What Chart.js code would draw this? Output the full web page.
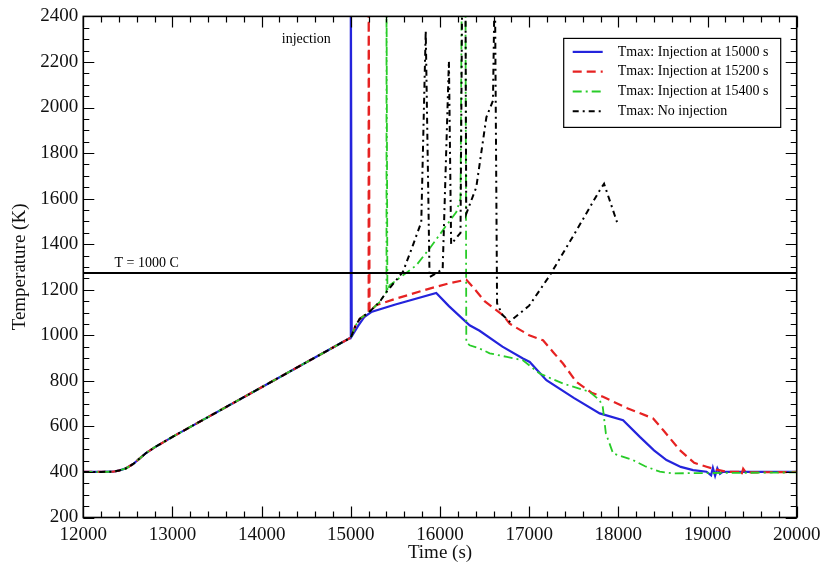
<!DOCTYPE html>
<html>
<head>
<meta charset="utf-8">
<title>Tmax history</title>
<script src="https://cdn.jsdelivr.net/npm/chart.js@4.4.1/dist/chart.umd.min.js"></script>
<style>
  html, body { margin: 0; padding: 0; background: #fff; }
  canvas { display: block; }
</style>
</head>
<body>
<canvas id="tmaxChart" width="827" height="564"></canvas>
<script>
// heat-up before any injection, shared by all runs
const baseTime = [12000, 12200, 12330, 12400, 12480, 12560, 12640, 12700, 12800, 13000, 14000, 15000];
const baseTemp = [400, 400, 401, 406, 416, 435, 462, 482, 508, 554, 772, 990];

// no injection up to the 15200 s kink
const preTime = [15050, 15100, 15200];
const preTemp = [1040, 1072, 1100];

const inj15000Time = [15000, 15010, 15080, 15150, 15229, 15500, 15958, 16100, 16332, 16444, 16700, 16930, 17006, 17193, 17500, 17791, 18053, 18241, 18400, 18540, 18700, 18838, 18989, 19040, 19060, 19085, 19110, 19140, 19170, 20000];
const inj15000Temp = [2600, 995, 1040, 1080, 1102, 1135, 1186, 1128, 1044, 1020, 950, 898, 883, 803, 725, 657, 627, 554, 495, 452, 422, 408, 401, 385, 418, 383, 416, 392, 400, 400];

const inj15200Time = [15200, 15210, 15285, 15500, 15883, 16100, 16295, 16369, 16500, 16706, 16781, 17000, 17155, 17267, 17379, 17530, 17700, 17828, 18100, 18390, 18502, 18689, 18850, 18989, 19100, 19213, 19350, 19380, 19400, 19430, 20000];
const inj15200Temp = [2600, 1105, 1132, 1160, 1205, 1228, 1244, 1212, 1150, 1088, 1051, 1000, 978, 927, 876, 795, 748, 730, 680, 635, 584, 496, 440, 423, 410, 401, 400, 386, 414, 398, 400];

const inj15400Time = [15322, 15400, 15400, 15410, 15434, 15734, 15900, 16071, 16183, 16230, 16245, 16285, 16295, 16332, 16444, 16557, 16750, 16930, 17118, 17379, 17677, 17790, 17825, 17860, 17941, 18165, 18300, 18465, 18600, 20000];
const inj15400Temp = [1146, 1190, 2600, 1195, 1219, 1307, 1390, 1482, 1541, 1600, 2600, 2600, 971, 956, 942, 921, 905, 890, 832, 788, 752, 715, 686, 569, 481, 452, 425, 401, 394, 398];

const noInjTime = [15322, 15400, 15584, 15696, 15790, 15840, 15883, 16030, 16100, 16125, 16230, 16250, 16285, 16294, 16407, 16520, 16594, 16615, 16640, 16700, 16780, 17000, 17230, 17530, 17790, 17840, 17903, 17960, 17985];
const noInjTemp = [1146, 1190, 1278, 1395, 1497, 2337, 1255, 1290, 2204, 1400, 1450, 2600, 2600, 1533, 1650, 1957, 2030, 2600, 1140, 1090, 1060, 1130, 1262, 1460, 1636, 1665, 1592, 1526, 1497];

const seriesLabels = [
  'Tmax: Injection at 15000 s',
  'Tmax: Injection at 15200 s',
  'Tmax: Injection at 15400 s',
  'Tmax: No injection'
];

const limitTemp = 1273;   // 1000 C
const xTicks = { min: 12000, max: 20000, major: 1000, minor: 200 };
const yTicks = { min: 200, max: 2400, major: 200, minor: 50 };

const FONT = "'Liberation Serif', 'Times New Roman', serif";

function pts(times, temps) {
  return times.map((t, i) => ({ x: t, y: temps[i] }));
}

const blueData = pts(baseTime.concat(inj15000Time), baseTemp.concat(inj15000Temp));
const redData = pts(baseTime.concat(preTime, inj15200Time), baseTemp.concat(preTemp, inj15200Temp));
const greenData = pts(baseTime.concat(preTime, inj15400Time), baseTemp.concat(preTemp, inj15400Temp));
const blackData = pts(baseTime.concat(preTime, noInjTime), baseTemp.concat(preTemp, noInjTemp));

const lineDefaults = { showLine: true, pointRadius: 0, pointHoverRadius: 0, fill: false, tension: 0 };

// frame with inward ticks, text labels and the boxed legend
const graceFrame = {
  id: 'graceFrame',
  afterDatasetsDraw(chart) {
    const { ctx, chartArea: a, scales: { x, y } } = chart;
    ctx.save();

    ctx.strokeStyle = '#000';
    ctx.lineWidth = 1.2;
    ctx.beginPath();
    for (let v = xTicks.min; v <= xTicks.max; v += xTicks.minor) {
      const px = Math.round(x.getPixelForValue(v)) + 0.5;
      const len = v % xTicks.major === 0 ? 11 : 6;
      ctx.moveTo(px, a.bottom); ctx.lineTo(px, a.bottom - len);
      ctx.moveTo(px, a.top); ctx.lineTo(px, a.top + len);
    }
    for (let v = yTicks.min; v <= yTicks.max; v += yTicks.minor) {
      const py = Math.round(y.getPixelForValue(v)) + 0.5;
      const len = v % yTicks.major === 0 ? 11 : 6;
      ctx.moveTo(a.left, py); ctx.lineTo(a.left + len, py);
      ctx.moveTo(a.right, py); ctx.lineTo(a.right - len, py);
    }
    ctx.stroke();

    ctx.lineWidth = 1.6;
    ctx.strokeRect(a.left, a.top, a.right - a.left, a.bottom - a.top);

    // text on the plot
    ctx.fillStyle = '#000';
    ctx.font = '14px ' + FONT;
    ctx.textAlign = 'right';
    ctx.textBaseline = 'middle';
    ctx.fillText('injection', x.getPixelForValue(15000) - 20, y.getPixelForValue(2298));
    ctx.textAlign = 'left';
    ctx.textBaseline = 'alphabetic';
    ctx.fillText('T = 1000 C', x.getPixelForValue(12350), y.getPixelForValue(limitTemp) - 6);

    // legend
    const bw = 217, bh = 89;
    const bx = a.right - 16 - bw, by = a.top + 22;
    ctx.fillStyle = '#fff';
    ctx.fillRect(bx, by, bw, bh);
    ctx.lineWidth = 1.2;
    ctx.strokeStyle = '#000';
    ctx.strokeRect(bx, by, bw, bh);
    ctx.textBaseline = 'middle';
    ctx.font = '14px ' + FONT;
    seriesLabels.forEach((label, i) => {
      const ds = chart.data.datasets[i];
      const ry = by + 13.5 + i * 19.8;
      ctx.save();
      ctx.strokeStyle = ds.borderColor;
      ctx.lineWidth = ds.borderWidth;
      ctx.setLineDash(ds.borderDash || []);
      ctx.beginPath();
      ctx.moveTo(bx + 9, ry);
      ctx.lineTo(bx + 39, ry);
      ctx.stroke();
      ctx.restore();
      ctx.fillStyle = '#000';
      ctx.fillText(label, bx + 54, ry);
    });

    ctx.restore();
  }
};

const ctx = document.getElementById('tmaxChart');

// lower order is drawn on top: black over green over red over blue
new Chart(ctx, {
  type: 'scatter',
  data: {
    datasets: [
      { ...lineDefaults, label: seriesLabels[0], data: blueData, borderColor: '#2424dc', borderWidth: 2.2, order: 3 },
      { ...lineDefaults, label: seriesLabels[1], data: redData, borderColor: '#e62222', borderWidth: 2.2, borderDash: [9, 5], order: 2 },
      { ...lineDefaults, label: seriesLabels[2], data: greenData, borderColor: '#28cc28', borderWidth: 1.8, borderDash: [9, 4, 2, 4], order: 1 },
      { ...lineDefaults, label: seriesLabels[3], data: blackData, borderColor: '#000', borderWidth: 2, borderDash: [6, 4, 2, 4], order: 0 },
      { ...lineDefaults, label: 'T = 1000 C', data: [{ x: xTicks.min, y: limitTemp }, { x: xTicks.max, y: limitTemp }], borderColor: '#000', borderWidth: 2, order: -1 }
    ]
  },
  options: {
    responsive: false,
    animation: false,
    devicePixelRatio: 1,
    layout: { padding: { left: 0, right: 30.3, top: 15.7, bottom: 0 } },
    plugins: {
      legend: { display: false },
      tooltip: { enabled: false }
    },
    scales: {
      x: {
        type: 'linear',
        min: xTicks.min,
        max: xTicks.max,
        afterFit: (scale) => { scale.height = 46.5; },
        grid: { display: false, drawTicks: false },
        border: { display: false },
        ticks: {
          stepSize: xTicks.major,
          autoSkip: false,
          maxRotation: 0,
          padding: 6,
          color: '#111',
          font: { family: FONT, size: 19 },
          callback: (v) => String(v)
        },
        title: {
          display: true,
          text: 'Time (s)',
          color: '#111',
          font: { family: FONT, size: 19 },
          padding: { top: 0, bottom: 0 }
        }
      },
      y: {
        type: 'linear',
        min: yTicks.min,
        max: yTicks.max,
        afterFit: (scale) => { scale.width = 83.3; },
        grid: { display: false, drawTicks: false },
        border: { display: false },
        ticks: {
          stepSize: yTicks.major,
          autoSkip: false,
          padding: 5,
          color: '#111',
          font: { family: FONT, size: 19 },
          callback: (v) => String(v)
        },
        title: {
          display: true,
          text: 'Temperature (K)',
          color: '#111',
          font: { family: FONT, size: 19 },
          padding: { top: 9, bottom: 0 }
        }
      }
    }
  },
  plugins: [graceFrame]
});
</script>
</body>
</html>
